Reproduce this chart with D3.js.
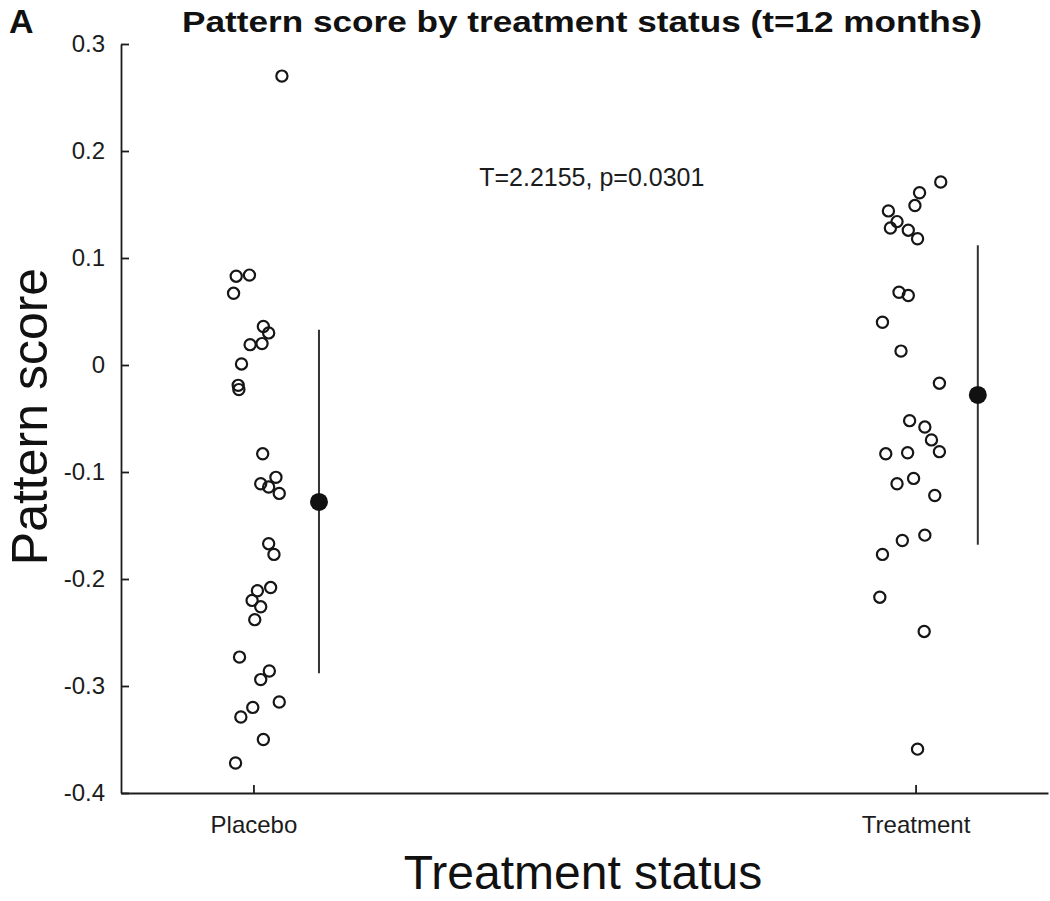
<!DOCTYPE html>
<html>
<head>
<meta charset="utf-8">
<script src="https://cdn.jsdelivr.net/npm/d3@7"></script>
<style>
  html, body { margin: 0; padding: 0; background: #fff; }
  svg { display: block; font-family: "Liberation Sans", Arial, Helvetica, sans-serif; }
</style>
</head>
<body>
<svg id="chart" width="1050" height="901"></svg>
<script>
// ---- data ----
const categories = ["Placebo", "Treatment"];
const categoryPositions = [1, 2];
const yTicks = [-0.4, -0.3, -0.2, -0.1, 0, 0.1, 0.2, 0.3];
const yTickLabels = ["-0.4", "-0.3", "-0.2", "-0.1", "0", "0.1", "0.2", "0.3"];

// individual scores (x = jittered category position, y = pattern score)
const placeboX = [0.994, 0.974, 0.970, 1.015, 1.023, 0.995, 1.013, 0.982, 0.977, 0.978,
                  1.014, 1.034, 1.011, 1.023, 1.039, 1.023, 1.031, 1.026, 1.006, 0.998,
                  1.011, 1.002, 0.979, 1.024, 1.011, 1.039, 0.999, 0.981, 1.015, 0.973, 1.043];
const placeboY = [0.084, 0.083, 0.067, 0.036, 0.030, 0.019, 0.020, 0.001, -0.019, -0.023,
                  -0.083, -0.105, -0.111, -0.114, -0.120, -0.167, -0.177, -0.208, -0.211, -0.220,
                  -0.226, -0.238, -0.273, -0.286, -0.294, -0.315, -0.320, -0.329, -0.350, -0.372, 0.270];
const treatmentX = [2.038, 2.006, 1.999, 1.959, 1.972, 1.962, 1.989, 2.003, 1.975, 1.989,
                    1.950, 1.978, 2.036, 1.991, 2.014, 2.024, 2.036, 1.955, 1.988, 1.997,
                    1.972, 2.029, 2.014, 1.980, 1.950, 1.946, 2.013, 2.003];
const treatmentY = [0.171, 0.161, 0.149, 0.144, 0.134, 0.128, 0.126, 0.118, 0.068, 0.065,
                    0.040, 0.013, -0.017, -0.052, -0.058, -0.070, -0.081, -0.083, -0.082, -0.106,
                    -0.111, -0.122, -0.159, -0.164, -0.177, -0.217, -0.249, -0.359];

// group means and error bars
const meanX = [1.099, 2.094];
const meanY = [-0.128, -0.028];
const errLow = [-0.288, -0.168];
const errHigh = [0.033, 0.112];

const titleText = "Pattern score by treatment status (t=12 months)";
const statText = "T=2.2155, p=0.0301";
const xLabel = "Treatment status";
const yLabel = "Pattern score";
const panelLetter = "A";

// ---- drawing ----
const svg = d3.select("#chart");
const mLeft = 121, mRight = 1048, mTop = 44, mBottom = 793;

const x = d3.scaleLinear().domain([0.8, 2.2]).range([mLeft, mRight]);
const y = d3.scaleLinear().domain([-0.4, 0.3]).range([mBottom, mTop]);

const ink = "#1c1c1c";

// y axis
const yAxis = svg.append("g")
  .attr("transform", `translate(${mLeft},0)`)
  .call(d3.axisLeft(y).tickValues(yTicks)
        .tickFormat((d, i) => yTickLabels[i])
        .tickSize(-8).tickSizeOuter(0).tickPadding(16));
yAxis.selectAll("text").attr("font-size", 24).attr("fill", ink)
  .style("font-family", "'Liberation Sans', Arial, sans-serif");
yAxis.selectAll("line").attr("stroke", ink).attr("stroke-width", 1.8);
yAxis.select(".domain").attr("stroke", ink).attr("stroke-width", 1.8);

// x axis
const xAxis = svg.append("g")
  .attr("transform", `translate(0,${mBottom})`)
  .call(d3.axisBottom(x).tickValues(categoryPositions)
        .tickFormat((d, i) => categories[i])
        .tickSize(-8).tickSizeOuter(0).tickPadding(23));
xAxis.selectAll("text").attr("font-size", 24).attr("fill", ink)
  .style("font-family", "'Liberation Sans', Arial, sans-serif");
xAxis.selectAll("line").attr("stroke", ink).attr("stroke-width", 1.8);
xAxis.select(".domain").attr("stroke", ink).attr("stroke-width", 1.8);

// points
const pts = [];
placeboX.forEach((v, i) => pts.push([v, placeboY[i]]));
treatmentX.forEach((v, i) => pts.push([v, treatmentY[i]]));
svg.append("g").selectAll("circle").data(pts).join("circle")
  .attr("cx", d => x(d[0])).attr("cy", d => y(d[1]))
  .attr("r", 5.6)
  .attr("fill", "none").attr("stroke", "#161616").attr("stroke-width", 2.2);

// error bars
svg.append("g").selectAll("line").data(meanX).join("line")
  .attr("x1", d => x(d)).attr("x2", d => x(d))
  .attr("y1", (d, i) => y(errHigh[i])).attr("y2", (d, i) => y(errLow[i]))
  .attr("stroke", "#333").attr("stroke-width", 2);

// means
svg.append("g").selectAll("circle").data(meanX).join("circle")
  .attr("cx", d => x(d)).attr("cy", (d, i) => y(meanY[i]))
  .attr("r", 9).attr("fill", "#111");

// stat text
svg.append("text").attr("x", x(1.511)).attr("y", y(0.167))
  .attr("text-anchor", "middle").attr("font-size", 25).attr("fill", ink)
  .text(statText);

// title
svg.append("text").attr("x", 582).attr("y", 32)
  .attr("text-anchor", "middle").attr("font-size", 29).attr("font-weight", "bold")
  .attr("fill", "#111")
  .attr("textLength", 800).attr("lengthAdjust", "spacingAndGlyphs")
  .text(titleText);

// panel letter
svg.append("text").attr("x", 9).attr("y", 33)
  .attr("font-size", 34).attr("font-weight", "bold").attr("fill", "#111")
  .text(panelLetter);

// axis labels
svg.append("text").attr("x", 583).attr("y", 889)
  .attr("text-anchor", "middle").attr("font-size", 48).attr("fill", "#111")
  .text(xLabel);
svg.append("text")
  .attr("transform", `translate(47,${(mTop + mBottom) / 2 - 2}) rotate(-90)`)
  .attr("text-anchor", "middle").attr("font-size", 50).attr("fill", "#111")
  .text(yLabel);
</script>
</body>
</html>
